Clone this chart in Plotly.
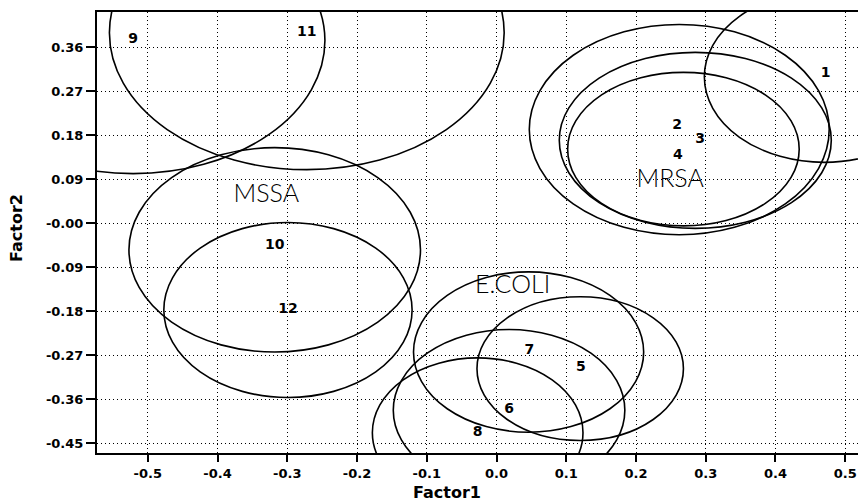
import plotly.graph_objects as go

# ---- data ----
point_ids = ["1", "2", "3", "4", "5", "6", "7", "8", "9", "10", "11", "12"]
point_x = [0.472, 0.259, 0.292, 0.260, 0.121, 0.018, 0.047, -0.027, -0.521, -0.318, -0.272, -0.299]
point_y = [0.306, 0.201, 0.171, 0.140, -0.294, -0.381, -0.260, -0.427, 0.376, -0.046, 0.391, -0.175]

# ellipse centres and semi-axes (Factor1, Factor2 units)
ell_cx = [0.470, 0.262, 0.285, 0.268, 0.120, 0.018, 0.046, -0.027, -0.521, -0.318, -0.272, -0.299]
ell_cy = [0.300, 0.192, 0.170, 0.152, -0.297, -0.382, -0.263, -0.428, 0.374, -0.054, 0.390, -0.177]
ell_rx = [0.172, 0.215, 0.195, 0.166, 0.148, 0.166, 0.165, 0.151, 0.275, 0.209, 0.283, 0.178]
ell_ry = [0.175, 0.215, 0.180, 0.157, 0.147, 0.165, 0.164, 0.153, 0.272, 0.209, 0.280, 0.179]

group_names = ["MSSA", "MRSA", "E.COLI"]
group_x = [-0.330, 0.249, 0.023]
group_y = [0.056, 0.088, -0.130]

x_tickvals = [-0.5, -0.4, -0.3, -0.2, -0.1, 0.0, 0.1, 0.2, 0.3, 0.4, 0.5]
x_ticktext = ["-0.5", "-0.4", "-0.3", "-0.2", "-0.1", "0.0", "0.1", "0.2", "0.3", "0.4", "0.5"]
y_tickvals = [0.36, 0.27, 0.18, 0.09, 0.0, -0.09, -0.18, -0.27, -0.36, -0.45]
y_ticktext = ["0.36", "0.27", "0.18", "0.09", "-0.00", "-0.09", "-0.18", "-0.27", "-0.36", "-0.45"]

x_range = [-0.5728, 0.5183]
y_range = [-0.4695, 0.4325]

FONT = "DejaVu Sans"

fig = go.Figure()

fig.add_trace(go.Scatter(
    x=point_x, y=point_y, text=point_ids, mode="text",
    textposition="middle center",
    textfont=dict(family=FONT, size=14, color="black", weight="bold"),
    hoverinfo="skip", showlegend=False, cliponaxis=False,
))

fig.add_trace(go.Scatter(
    x=group_x, y=group_y, text=group_names, mode="text",
    textposition="middle center",
    textfont=dict(family="Lato", size=25, color="black", weight=300),
    hoverinfo="skip", showlegend=False,
))

shapes = []
for cx, cy, rx, ry in zip(ell_cx, ell_cy, ell_rx, ell_ry):
    shapes.append(dict(
        type="circle", xref="x", yref="y",
        x0=cx - rx, x1=cx + rx, y0=cy - ry, y1=cy + ry,
        line=dict(color="black", width=1.6),
        fillcolor="rgba(0,0,0,0)", layer="above",
    ))

fig.update_layout(
    width=858, height=501,
    margin=dict(l=97, r=0, t=12, b=48),
    paper_bgcolor="white", plot_bgcolor="white",
    shapes=shapes,
    showlegend=False,
    hovermode=False,
    font=dict(family=FONT, color="black"),
    xaxis=dict(
        range=x_range, tickvals=x_tickvals, ticktext=x_ticktext,
        showline=True, linecolor="black", linewidth=2, mirror=True,
        ticks="outside", ticklen=7, tickwidth=2, tickcolor="black",
        showgrid=True, gridcolor="black", gridwidth=1, griddash="1px,3px",
        zeroline=False,
        tickfont=dict(family=FONT, size=13, color="black", weight="bold"),
    ),
    yaxis=dict(
        range=y_range, tickvals=y_tickvals, ticktext=y_ticktext,
        showline=True, linecolor="black", linewidth=2, mirror=False,
        ticks="outside", ticklen=9, tickwidth=2, tickcolor="black",
        showgrid=True, gridcolor="black", gridwidth=1, griddash="1px,3px",
        zeroline=False,
        tickfont=dict(family=FONT, size=13, color="black", weight="bold"),
    ),
    annotations=[
        dict(text="Factor1", xref="paper", yref="paper",
             x=(447 - 97) / 761, y=(453 - 492) / 441,
             xanchor="center", yanchor="middle", showarrow=False,
             font=dict(family=FONT, size=16, color="black", weight="bold")),
        dict(text="Factor2", xref="paper", yref="paper",
             x=(16 - 97) / 761, y=(453 - 228) / 441, textangle=-90,
             xanchor="center", yanchor="middle", showarrow=False,
             font=dict(family=FONT, size=16, color="black", weight="bold")),
    ],
)

# remove the page's default body margin so the 858x501 figure fills the window exactly
fig.write_html(
    "out.html",
    config={"displayModeBar": False, "staticPlot": True},
    post_script="document.body.style.margin='0';"
                "document.documentElement.style.overflow='hidden';"
                "document.body.style.overflow='hidden';",
)
